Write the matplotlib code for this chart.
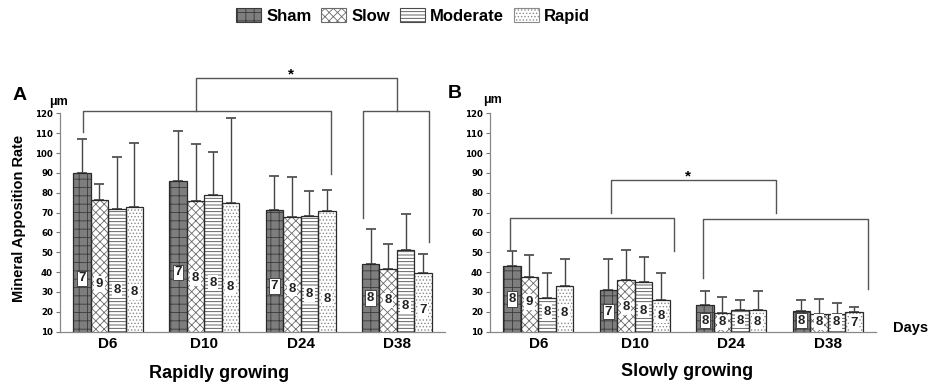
import numpy as np
import matplotlib
matplotlib.use('Agg')
from matplotlib import pyplot as plt
from matplotlib.patches import Patch

plt.rcParams['font.family'] = ['Liberation Sans', 'DejaVu Sans']
plt.rcParams['hatch.linewidth'] = 0.6

days = ['D6', 'D10', 'D24', 'D38']
groups = ['Sham', 'Slow', 'Moderate', 'Rapid']

# panel A: rapidly growing, mean and SD per group (rows) and day (cols)
rapid_mean = [[90, 86, 71.2, 44],
              [76.5, 75.7, 68, 41.6],
              [72, 78.6, 68.4, 51.4],
              [73, 74.6, 71, 39.8]]
rapid_sd = [[17, 25, 17, 17.6],
            [8, 29, 20, 12.8],
            [26, 22, 12.6, 18],
            [32, 43, 10.6, 9.2]]
rapid_n = [[7, 7, 7, 8],
           [9, 8, 8, 8],
           [8, 8, 8, 8],
           [8, 8, 8, 7]]

# panel B: slowly growing
slow_mean = [[43.3, 30.9, 23.5, 20.6],
             [37.6, 36.2, 19.4, 19.1],
             [26.8, 35, 21, 18.9],
             [33.2, 26, 20.8, 20.1]]
slow_sd = [[7.3, 15.8, 7.2, 5.2],
           [11, 15, 8.3, 7.2],
           [13, 12.8, 4.8, 5.7],
           [13.5, 13.8, 9.6, 2.2]]
slow_n = [[8, 7, 8, 8],
          [9, 8, 8, 8],
          [8, 8, 8, 8],
          [8, 8, 8, 7]]

# where the n labels sit inside the bars
rapid_lab_y = [[37, 40, 33, 27], [34, 37, 31.7, 25.8], [31, 34.5, 29, 22.8], [30, 32.7, 26.6, 20.7]]
slow_lab_y = [[26.5, 20, 15.6, 15.6], [25, 22.3, 14.7, 14.9], [20, 20.6, 15.6, 14.9], [19.3, 18, 15.1, 14.4]]

faces = ['#7e7e7e', 'white', 'white', 'white']
hcols = ['#3a3a3a', '#6a6a6a', '#4a4a4a', '#8a8a8a']
hatches = ['++', 'xxxx', '-----', '.....']
w = 0.182
line_c = '#555555'

fig = plt.figure(figsize=(9.36, 3.89), dpi=100)
bot = (389 - 331.7) / 389
hgt = (331.7 - 113.3) / 389
axA = fig.add_axes([60 / 936, bot, 385 / 936, hgt])
axB = fig.add_axes([490 / 936, bot, 386 / 936, hgt])


def draw_panel(ax, mean, sd, n, lab_y):
    x = np.arange(len(days))
    for i in range(len(groups)):
        xs = x + (i - 1.5) * w
        ax.bar(xs, mean[i], w, color=faces[i], edgecolor=hcols[i], hatch=hatches[i], lw=0, zorder=2)
        ax.bar(xs, mean[i], w, fill=False, edgecolor='#2a2a2a', lw=0.9, zorder=3)
        ax.errorbar(xs, mean[i], yerr=[np.zeros(4), sd[i]], fmt='none', ecolor='#444444',
                    elinewidth=1, capsize=3.5, capthick=1.2, zorder=1)
        for j in range(len(days)):
            bb = dict(boxstyle='square,pad=0.12', fc='white', ec='#333333' if i == 0 else 'none', lw=0.6)
            ax.text(xs[j], lab_y[i][j], str(n[i][j]), ha='center', va='center', fontsize=9.5,
                    fontweight='bold', color='#222222', bbox=bb, zorder=4)
    ax.set_xlim(-0.5, 3.5)
    ax.set_ylim(10, 120)
    ax.set_yticks(range(10, 121, 10))
    ax.set_xticks(x)
    ax.set_xticklabels(days, fontsize=11, fontweight='bold')
    ax.tick_params(axis='x', length=0, pad=4)
    ax.tick_params(axis='y', length=3, color='#777777', pad=2, labelsize=6.2)
    for t in ax.get_yticklabels():
        t.set_fontweight('bold')
        t.set_family('DejaVu Sans')
    for s in ['top', 'right']:
        ax.spines[s].set_visible(False)
    for s in ['left', 'bottom']:
        ax.spines[s].set_color('#888888')
        ax.spines[s].set_linewidth(0.9)


def bracket(ax, x0, x1, ytop, yl, yr):
    ax.plot([x0, x0, x1, x1], [yl, ytop, ytop, yr], color=line_c, lw=1, clip_on=False, zorder=5)


draw_panel(axA, rapid_mean, rapid_sd, rapid_n, rapid_lab_y)
draw_panel(axB, slow_mean, slow_sd, slow_n, slow_lab_y)

bracket(axA, -0.26, 2.32, 121.3, 110.4, 89.2)
bracket(axA, 2.65, 3.33, 121.3, 67.5, 55.4)
bracket(axA, 0.91, 3.0, 137.8, 121.3, 121.3)
axA.text(1.9, 139.5, '*', ha='center', va='center', fontsize=11, fontweight='bold', clip_on=False)

bracket(axB, -0.29, 1.41, 67.5, 51.2, 50.4)
bracket(axB, 1.71, 3.42, 66.9, 37, 31.4)
bracket(axB, 0.75, 2.46, 86.2, 69.7, 69.7)
axB.text(1.55, 88, '*', ha='center', va='center', fontsize=11, fontweight='bold', clip_on=False)

fig.text(19 / 936, 1 - 218 / 389, 'Mineral Apposition Rate', rotation=90, ha='center', va='center',
         fontsize=10.5, fontweight='bold')
fig.text(219 / 936, 1 - 373 / 389, 'Rapidly growing', ha='center', va='center', fontsize=13, fontweight='bold')
fig.text(687 / 936, 1 - 372 / 389, 'Slowly growing', ha='center', va='center', fontsize=13, fontweight='bold')
fig.text(911 / 936, 1 - 328 / 389, 'Days', ha='center', va='center', fontsize=10.5, fontweight='bold')
fig.text(20 / 936, 1 - 95 / 389, 'A', ha='center', va='center', fontsize=14, fontweight='bold')
fig.text(59 / 936, 1 - 102 / 389, 'μm', ha='center', va='center', fontsize=9, fontweight='bold')
fig.text(455 / 936, 1 - 93 / 389, 'B', ha='center', va='center', fontsize=14, fontweight='bold')
fig.text(492 / 936, 1 - 100 / 389, 'μm', ha='center', va='center', fontsize=9, fontweight='bold')

handles = [Patch(facecolor=faces[i], edgecolor=hcols[i], hatch=hatches[i], lw=0.8) for i in range(4)]
fig.legend(handles, groups, loc='center', bbox_to_anchor=(413 / 936, 1 - 16 / 389), ncol=4, frameon=False,
           handlelength=1.5, handleheight=0.85, columnspacing=0.6, handletextpad=0.3,
           prop={'weight': 'bold', 'size': 12})

fig.savefig('out.png', dpi=100)
